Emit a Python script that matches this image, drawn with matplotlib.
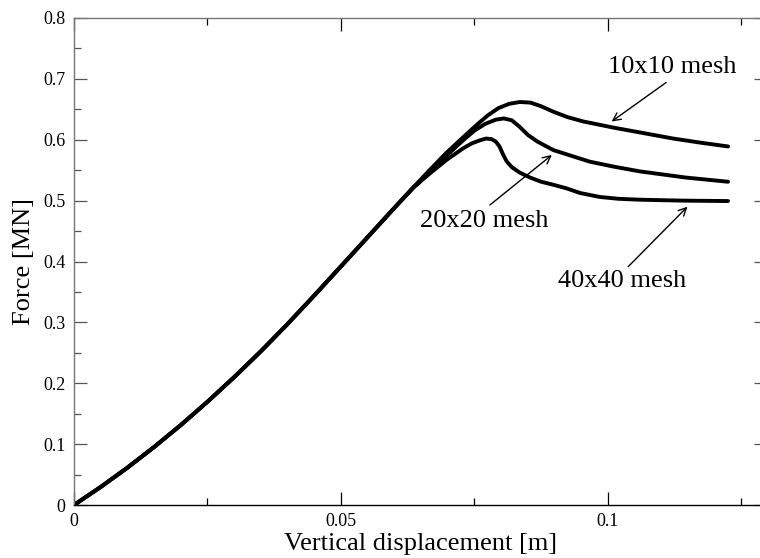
import matplotlib
matplotlib.use("Agg")
import matplotlib.pyplot as plt
from matplotlib.ticker import MultipleLocator, FuncFormatter

# ---- data ----
common_x = [0, 0.005, 0.010, 0.015, 0.020, 0.025, 0.030, 0.035, 0.040,
            0.045, 0.050, 0.055, 0.060, 0.0635]
common_y = [0, 0.0296, 0.0613, 0.0952, 0.1313, 0.1696, 0.210, 0.2525, 0.2973,
            0.3442, 0.392, 0.440, 0.488, 0.521]

mesh10_x = [0.0667, 0.0698, 0.073, 0.0755, 0.0775, 0.0795, 0.0815, 0.0835, 0.0855,
            0.0875, 0.0898, 0.0925, 0.0954, 0.101, 0.106, 0.1122, 0.1175, 0.1225]
mesh10_y = [0.551, 0.579, 0.605, 0.625, 0.640, 0.652, 0.659, 0.662, 0.661,
            0.655, 0.646, 0.637, 0.630, 0.620, 0.612, 0.602, 0.595, 0.589]

mesh20_x = [0.0667, 0.0698, 0.073, 0.075, 0.077, 0.079, 0.0805, 0.082, 0.0835,
            0.085, 0.0868, 0.0885, 0.0898, 0.093, 0.0966, 0.101, 0.106, 0.1145, 0.1225]
mesh20_y = [0.548, 0.574, 0.600, 0.615, 0.626, 0.633, 0.635, 0.632, 0.621,
            0.608, 0.597, 0.589, 0.583, 0.574, 0.564, 0.556, 0.548, 0.538, 0.531]

mesh40_x = [0.0667, 0.0698, 0.0729, 0.0745, 0.076, 0.0772, 0.0782, 0.079, 0.0797,
            0.0803, 0.081, 0.082, 0.0835, 0.0854, 0.0875, 0.0898, 0.0923, 0.0948,
            0.0985, 0.102, 0.106, 0.114, 0.1225]
mesh40_y = [0.545, 0.567, 0.586, 0.594, 0.599, 0.602, 0.601, 0.597, 0.589,
            0.577, 0.565, 0.555, 0.546, 0.538, 0.531, 0.526, 0.520, 0.5125,
            0.506, 0.503, 0.5015, 0.500, 0.4993]

labels = ["10x10 mesh", "20x20 mesh", "40x40 mesh"]
label_xy = [(0.1001, 0.720), (0.0648, 0.4665), (0.0907, 0.368)]
arrow_tail = [(0.1109, 0.694), (0.0779, 0.4928), (0.1038, 0.3915)]
arrow_head = [(0.1007, 0.630), (0.0895, 0.575), (0.1149, 0.490)]

x_ticks = [0, 0.05, 0.1]
x_tick_labels = ["0", "0.05", "0.1"]
y_ticks = [0, 0.1, 0.2, 0.3, 0.4, 0.5, 0.6, 0.7, 0.8]

# ---- figure ----
plt.rcParams['font.family'] = ['Liberation Serif', 'DejaVu Serif']
W, H = 760, 558
fig = plt.figure(figsize=(W / 100, H / 100), dpi=100)
ax = fig.add_axes([74 / W, (H - 505) / H, 693 / W, 487 / H])

lw = 2.8
for bx, by in [(mesh10_x, mesh10_y), (mesh20_x, mesh20_y), (mesh40_x, mesh40_y)]:
    ax.plot(common_x + bx, common_y + by, color='black', lw=lw,
            solid_joinstyle='round', solid_capstyle='round')

for lab, pos, tail, head in zip(labels, label_xy, arrow_tail, arrow_head):
    ax.text(pos[0], pos[1], lab, fontsize=19, ha='left', va='center')
    ax.annotate("", xy=head, xytext=tail,
                arrowprops=dict(arrowstyle='->', color='black', lw=1.0,
                                mutation_scale=14, shrinkA=0, shrinkB=0))

ax.set_xlim(0, 0.1298)
ax.set_ylim(0, 0.8)
ax.set_xticks(x_ticks)
ax.set_xticklabels(x_tick_labels)
ax.set_yticks(y_ticks)
ax.yaxis.set_major_formatter(FuncFormatter(lambda v, p: "%g" % round(v, 3)))
ax.xaxis.set_minor_locator(MultipleLocator(0.025))
ax.yaxis.set_minor_locator(MultipleLocator(0.05))

ax.tick_params(which='both', direction='in', top=True, right=True,
               labelsize=13, pad=6, colors='#555555', labelcolor='black')
ax.tick_params(which='major', length=9.5, width=0.9)
ax.tick_params(which='minor', length=5, width=0.9)
ax.tick_params(axis='x', which='both', colors='black', labelcolor='black')

for side in ['left', 'top']:
    ax.spines[side].set_color('#777777')
ax.spines['right'].set_visible(False)
ax.spines['bottom'].set_color('black')
for s in ax.spines.values():
    s.set_linewidth(1.0)

ax.set_xlabel("Vertical displacement [m]", fontsize=19, labelpad=2)
ax.set_ylabel("Force [MN]", fontsize=19, labelpad=6)

fig.savefig("out.png", dpi=100)
